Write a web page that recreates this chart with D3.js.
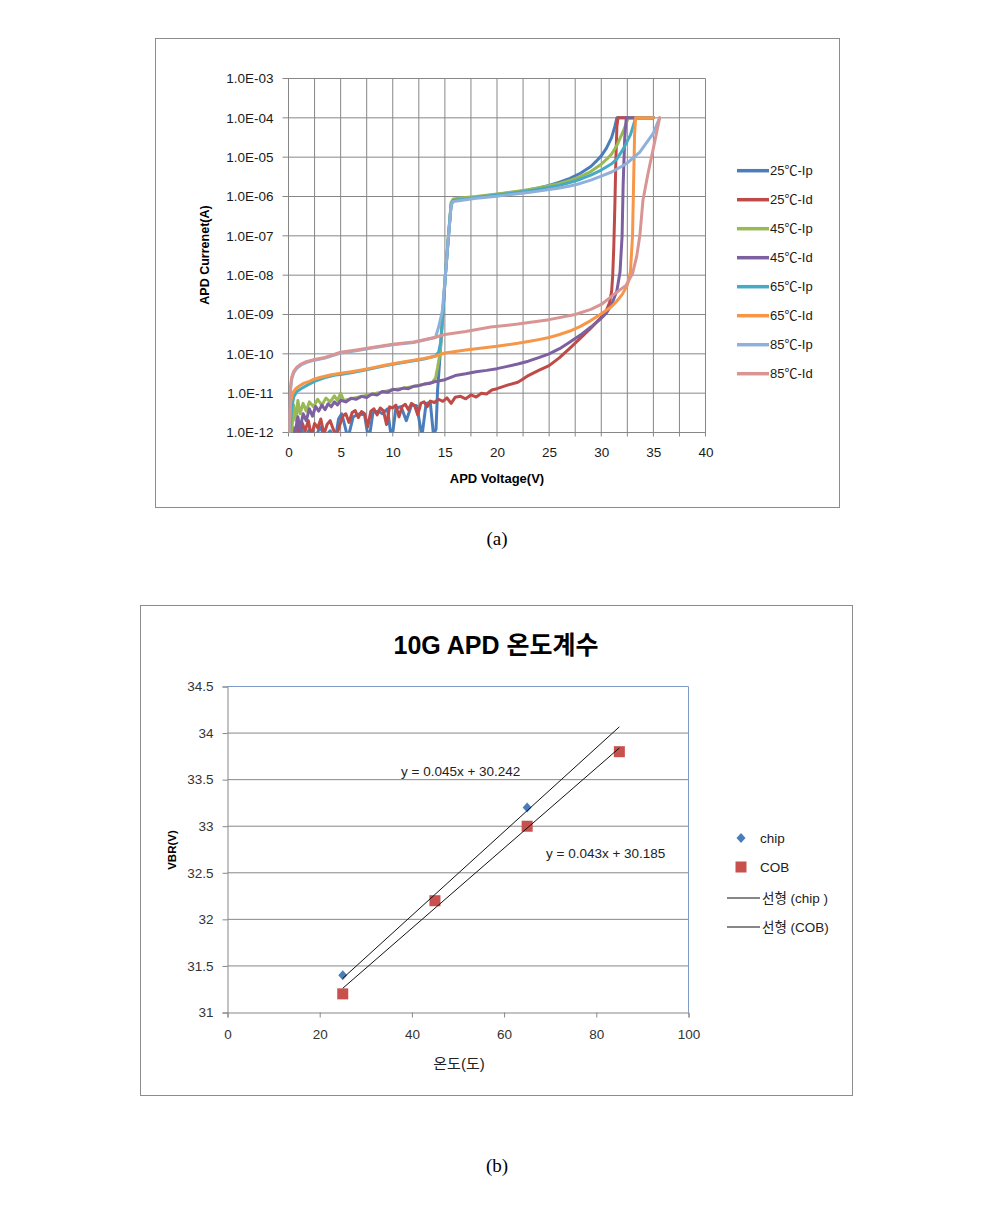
<!DOCTYPE html>
<html>
<head>
<meta charset="utf-8">
<script src="https://cdn.jsdelivr.net/npm/d3@7"></script>
<style>
  body { margin: 0; background: #fff; }
  text { font-family: "Liberation Sans", "Noto Sans CJK KR", sans-serif; }
</style>
</head>
<body>
<script>
// ---------- chart (a): APD I-V curves, [voltage (V), current (A)] ----------
const ip25 = [[0,5e-13],[0.5,1.3e-12],[0.8,6e-13],[1.2,1.5e-12],[1.5,7e-13],[2.0,1.2e-12],[2.5,6e-13],[3.0,1.4e-12],[3.5,8e-13],[4.0,1.1e-12],[4.5,7e-13],[4.8,2.2e-12],[5.1,3.0e-12],[5.4,1.5e-12],[5.7,7e-13],[6.2,2.5e-12],[6.8,3.0e-12],[7.3,2.8e-12],[7.7,6e-13],[8.1,3.2e-12],[8.6,3.5e-12],[9.0,3.0e-12],[9.5,4.0e-12],[9.9,6e-13],[10.3,4.2e-12],[10.8,4.5e-12],[11.3,2.0e-12],[11.8,5.0e-12],[12.3,4.8e-12],[12.8,8e-13],[13.2,5.5e-12],[13.6,5.8e-12],[13.9,9e-13],[14.15,1.2e-12],[14.3,1.2e-11],[14.55,1e-10],[14.8,1e-9],[15.05,1e-8],[15.35,1e-7],[15.6,6.3e-7],[15.8,7.8e-7],[16,8.0e-7],[17,8.8e-7],[18,9.6e-7],[19,1.04e-6],[20,1.12e-6],[21,1.22e-6],[22,1.33e-6],[23,1.46e-6],[24,1.65e-6],[25,1.9e-6],[26,2.3e-6],[27,2.9e-6],[28,3.9e-6],[29,5.8e-6],[29.5,7.8e-6],[30,1.08e-5],[30.5,1.7e-5],[31,3.2e-5],[31.3,6e-5],[31.5,1e-4],[35,1e-4]];
const id25 = [[0,5e-13],[0.5,8e-13],[0.8,1.6e-12],[1.0,9e-13],[1.3,1.8e-12],[1.6,1.1e-12],[1.9,2.0e-12],[2.2,8e-13],[2.5,1.7e-12],[2.8,1.3e-12],[3.1,2.2e-12],[3.4,9e-13],[3.7,1.6e-12],[4.0,2.0e-12],[4.3,1.2e-12],[4.6,8e-13],[4.9,1.5e-12],[5.2,2.6e-12],[5.5,3.0e-12],[5.8,1.8e-12],[6.1,3.2e-12],[6.4,3.6e-12],[6.7,2.4e-12],[7.0,3.4e-12],[7.3,3.0e-12],[7.6,1.4e-12],[7.9,3.5e-12],[8.2,4.0e-12],[8.5,2.8e-12],[8.8,4.2e-12],[9.1,3.6e-12],[9.4,1.6e-12],[9.7,4.5e-12],[10.0,4.2e-12],[10.3,5.0e-12],[10.6,2.5e-12],[10.9,4.6e-12],[11.2,5.2e-12],[11.5,3.8e-12],[11.8,5.5e-12],[12.1,4.8e-12],[12.4,2.8e-12],[12.7,5.6e-12],[13.0,6.0e-12],[13.3,4.5e-12],[13.6,6.3e-12],[14.0,5.8e-12],[14.4,7.0e-12],[14.8,6.2e-12],[15.2,7.6e-12],[15.6,5.5e-12],[16.0,7.9e-12],[16.5,8.3e-12],[17.0,7.2e-12],[17.5,9.0e-12],[18.0,8.0e-12],[18.5,1.0e-11],[19.0,9.5e-12],[19.5,1.2e-11],[20,1.3e-11],[21,1.6e-11],[22,1.9e-11],[22.5,2.3e-11],[23,2.8e-11],[24,3.8e-11],[25,5.0e-11],[26,8.0e-11],[27,1.4e-10],[28,2.5e-10],[29,4.5e-10],[30,8.5e-10],[30.5,1.3e-9],[30.8,2.0e-9],[31.0,4e-9],[31.1,1e-8],[31.2,5e-8],[31.3,5e-7],[31.4,8e-6],[31.5,6e-5],[31.6,1e-4],[35,1e-4]];
const ip45 = [[0,5e-13],[0.3,1e-12],[0.5,5e-12],[0.7,2e-12],[0.9,6.5e-12],[1.1,3e-12],[1.4,5.5e-12],[1.7,3.5e-12],[2.0,6e-12],[2.4,4.5e-12],[2.8,7e-12],[3.2,5e-12],[3.6,7.5e-12],[4.0,6e-12],[4.4,8.5e-12],[4.7,6.5e-12],[5.0,1.0e-11],[5.3,6.5e-12],[6,7.2e-12],[7,8.2e-12],[8,9.4e-12],[9,1.08e-11],[10,1.22e-11],[11,1.33e-11],[12,1.48e-11],[13,1.68e-11],[13.8,1.9e-11],[14.1,2.4e-11],[14.3,4.5e-11],[14.55,1.1e-10],[14.8,1.1e-9],[15.05,1.1e-8],[15.35,1.1e-7],[15.6,7e-7],[15.8,8.6e-7],[16,8.8e-7],[17,9.5e-7],[18,1.0e-6],[19,1.08e-6],[20,1.16e-6],[21,1.25e-6],[22,1.36e-6],[23,1.49e-6],[24,1.66e-6],[25,1.87e-6],[26,2.15e-6],[27,2.55e-6],[28,3.2e-6],[29,4.3e-6],[30,6.6e-6],[30.6,9.3e-6],[31,1.2e-5],[31.5,2.0e-5],[32.1,4.5e-5],[32.6,1e-4],[35,1e-4]];
const id45 = [[0,5e-13],[0.6,9e-13],[0.9,2.5e-12],[1.1,1.2e-12],[1.4,3.0e-12],[1.7,2.0e-12],[2.0,4.0e-12],[2.3,2.6e-12],[2.6,4.6e-12],[2.9,3.5e-12],[3.2,5.0e-12],[3.5,3.8e-12],[3.8,5.4e-12],[4.1,4.5e-12],[4.4,6.0e-12],[4.7,5.0e-12],[5.0,6.6e-12],[5.5,6.0e-12],[6.0,7.4e-12],[6.5,7.0e-12],[7.0,8.3e-12],[7.5,7.8e-12],[8.0,9.5e-12],[8.5,9.0e-12],[9.0,1.1e-11],[9.5,1.05e-11],[10.0,1.25e-11],[10.5,1.2e-11],[11.0,1.35e-11],[11.5,1.3e-11],[12.0,1.5e-11],[12.5,1.55e-11],[13.0,1.7e-11],[13.5,1.75e-11],[14.0,1.95e-11],[15,2.2e-11],[16,2.8e-11],[17,3.1e-11],[18,3.5e-11],[19,3.8e-11],[20,4.2e-11],[21,4.8e-11],[22,5.5e-11],[23,6.5e-11],[24,8.0e-11],[25,1.0e-10],[26,1.35e-10],[27,2.0e-10],[28,3.0e-10],[29,4.8e-10],[30,8.0e-10],[30.5,1.1e-9],[31.0,1.8e-9],[31.5,4e-9],[31.8,1.2e-8],[32.0,1e-7],[32.1,2e-6],[32.25,3e-5],[32.4,1e-4],[35,1e-4]];
const ip65 = [[0,5e-13],[0.1,1e-12],[0.3,4e-12],[0.5,8e-12],[0.8,1.1e-11],[1.2,1.3e-11],[1.8,1.6e-11],[2.5,2.0e-11],[3.5,2.5e-11],[4.5,2.9e-11],[5,3.0e-11],[6,3.3e-11],[7,3.7e-11],[8,4.2e-11],[9,4.8e-11],[10,5.4e-11],[11,6.0e-11],[12,6.7e-11],[13,7.4e-11],[14.1,8.8e-11],[14.4,1.1e-10],[14.6,2e-10],[14.8,1e-9],[15.05,1e-8],[15.35,1e-7],[15.6,6.3e-7],[15.8,7.8e-7],[16,8.0e-7],[17,8.7e-7],[18,9.4e-7],[19,1.01e-6],[20,1.09e-6],[21,1.17e-6],[22,1.27e-6],[23,1.39e-6],[24,1.53e-6],[25,1.7e-6],[26,1.92e-6],[27,2.25e-6],[28,2.75e-6],[29,3.5e-6],[30,4.7e-6],[31,6.8e-6],[31.5,9e-6],[32.1,1.6e-5],[32.8,3.7e-5],[33.3,1e-4],[35,1e-4]];
const id65 = [[0.05,8e-13],[0.2,6e-12],[0.4,1.0e-11],[0.7,1.3e-11],[1.0,1.5e-11],[1.5,1.8e-11],[2.0,2.0e-11],[2.5,2.3e-11],[3.0,2.5e-11],[4.0,2.9e-11],[5.0,3.2e-11],[6.0,3.5e-11],[7.0,3.9e-11],[8.0,4.4e-11],[9.0,5.0e-11],[10,5.6e-11],[11,6.2e-11],[12,6.9e-11],[13,7.6e-11],[14,8.6e-11],[15,1.05e-10],[16,1.15e-10],[17,1.25e-10],[18,1.35e-10],[19,1.45e-10],[20,1.55e-10],[21,1.7e-10],[22,1.85e-10],[23,2.05e-10],[24,2.3e-10],[25,2.6e-10],[26,3.1e-10],[27,3.8e-10],[28,5.0e-10],[29,7.0e-10],[30,1.05e-9],[31,1.6e-9],[31.5,2.2e-9],[32,3.2e-9],[32.5,5.5e-9],[32.8,1.2e-8],[33.0,1e-7],[33.1,2e-6],[33.2,4e-5],[33.3,1e-4],[35,1e-4]];
const ip85 = [[0,5e-13],[0.1,2e-12],[0.2,1.2e-11],[0.3,2.2e-11],[0.5,3.3e-11],[0.8,4.3e-11],[1.2,5.2e-11],[1.7,6e-11],[2.5,6.9e-11],[3.5,7.8e-11],[5,1.05e-10],[6.5,1.2e-10],[8,1.4e-10],[10,1.7e-10],[12,1.95e-10],[14.1,2.6e-10],[14.4,4.8e-10],[14.75,1.2e-9],[15.05,1e-8],[15.35,1e-7],[15.6,6e-7],[15.8,7.5e-7],[16,7.6e-7],[17,8.3e-7],[18,9.0e-7],[19,9.6e-7],[20,1.02e-6],[21,1.1e-6],[22,1.18e-6],[23,1.27e-6],[24,1.37e-6],[25,1.5e-6],[26,1.65e-6],[27,1.85e-6],[28,2.15e-6],[29,2.6e-6],[30,3.3e-6],[31,4.2e-6],[32.4,6.8e-6],[33.7,1.35e-5],[35,4.1e-5],[35.6,1e-4]];
const id85 = [[0,1e-12],[0.1,3e-12],[0.2,1.5e-11],[0.3,2.5e-11],[0.5,3.6e-11],[0.8,4.6e-11],[1.2,5.5e-11],[1.7,6.3e-11],[2.5,7.2e-11],[3.5,8.1e-11],[5.0,1.1e-10],[6.5,1.25e-10],[8.0,1.45e-10],[10,1.75e-10],[12,2.0e-10],[14,2.6e-10],[15,3.1e-10],[17,3.7e-10],[19.4,4.8e-10],[22,5.7e-10],[25,7.4e-10],[27.5,1.0e-9],[29,1.35e-9],[30,1.8e-9],[31.2,3.2e-9],[32.4,5.6e-9],[33.0,1.1e-8],[33.4,3e-8],[33.7,1.0e-7],[34.0,8e-7],[34.5,4e-6],[35.0,1.7e-5],[35.6,1e-4]];

const curveNames = ["25℃-Ip", "25℃-Id", "45℃-Ip", "45℃-Id", "65℃-Ip", "65℃-Id", "85℃-Ip", "85℃-Id"];
const curveData = [ip25, id25, ip45, id45, ip65, id65, ip85, id85];
const voltTicks = [0, 5, 10, 15, 20, 25, 30, 35, 40];
const currentTicks = [1e-12, 1e-11, 1e-10, 1e-9, 1e-8, 1e-7, 1e-6, 1e-5, 1e-4, 1e-3];

// ---------- chart (b): breakdown voltage vs temperature ----------
const chipTemp = [25, 45, 65];
const chipVbr = [31.4, 32.2, 33.2];
const cobTemp = [25, 45, 65, 85];
const cobVbr = [31.2, 32.2, 33.0, 33.8];
const fitNames = ["선형 (chip )", "선형 (COB)"];
const fitSlope = [0.045, 0.043];
const fitIntercept = [30.242, 30.185];
const fitLabels = ["y = 0.045x + 30.242", "y = 0.043x + 30.185"];
const fitSpan = [25, 85];
const tempTicks = [0, 20, 40, 60, 80, 100];
const vbrTicks = [31, 31.5, 32, 32.5, 33, 33.5, 34, 34.5];

const colors = ["#4a7ebb", "#be4b48", "#98b954", "#7d60a0", "#46aac5", "#f79646", "#8fb0da", "#d99593"];
const gridColor = "#878787";
const diamond = "M0,-5L4.5,0L0,5L-4.5,0Z";

const svg = d3.select("body").append("svg")
  .attr("width", 996).attr("height", 1208);

// ================= (a) =================
svg.append("rect").attr("x", 155.5).attr("y", 38.5).attr("width", 684).attr("height", 469)
  .attr("fill", "#fff").attr("stroke", "#8c8c8c");

const W1 = 417, H1 = 354;
const g1 = svg.append("g").attr("transform", "translate(288.5,78.5)");
const x1 = d3.scaleLinear().domain([0, 40]).range([0, W1]);
const y1 = d3.scaleLog().domain([1e-12, 1e-3]).range([H1, 0]);

// grid every 2.5 V and every decade
g1.append("g").selectAll("line").data(d3.range(0, 40.01, 2.5)).join("line")
  .attr("x1", d => x1(d)).attr("x2", d => x1(d)).attr("y1", 0).attr("y2", H1 + 4)
  .attr("stroke", gridColor).attr("stroke-width", 1);
g1.append("g").selectAll("line").data(currentTicks).join("line")
  .attr("x1", -6).attr("x2", W1).attr("y1", d => y1(d)).attr("y2", d => y1(d))
  .attr("stroke", gridColor).attr("stroke-width", 1);

const fmtE = d => "1.0E-" + String(Math.round(-Math.log10(d))).padStart(2, "0");
const ax1 = g1.append("g").call(d3.axisLeft(y1).tickValues(currentTicks).tickFormat(fmtE).tickSize(0).tickPadding(15));
const bx1 = g1.append("g").attr("transform", `translate(0,${H1})`)
  .call(d3.axisBottom(x1).tickValues(voltTicks).tickSize(0).tickPadding(15));
[ax1, bx1].forEach(a => {
  a.select(".domain").remove();
  a.selectAll("text").attr("font-size", 13.5).attr("fill", "#1a1a1a")
    .style("font-family", "'Liberation Sans', sans-serif");
});

g1.append("clipPath").attr("id", "clipA").append("rect")
  .attr("x", 0).attr("y", -3).attr("width", W1).attr("height", H1 + 3);

const line1 = d3.line().x(d => x1(d[0])).y(d => y1(d[1]));
g1.append("g").attr("clip-path", "url(#clipA)")
  .selectAll("path").data(curveData).join("path")
  .attr("d", line1).attr("fill", "none")
  .attr("stroke", (d, i) => colors[i]).attr("stroke-width", 3)
  .attr("stroke-linejoin", "round").attr("stroke-linecap", "round");

svg.append("text").attr("x", 497).attr("y", 478).attr("text-anchor", "middle")
  .attr("dominant-baseline", "central").attr("font-size", 13).attr("font-weight", "bold")
  .text("APD Voltage(V)");
svg.append("text").attr("transform", "translate(205,255) rotate(-90)").attr("text-anchor", "middle")
  .attr("dominant-baseline", "central").attr("font-size", 12.5).attr("font-weight", "bold")
  .text("APD Currenet(A)");

const leg1 = svg.append("g").selectAll("g").data(curveNames).join("g")
  .attr("transform", (d, i) => `translate(737,${170.7 + i * 29})`);
leg1.append("line").attr("x1", 0).attr("x2", 32).attr("stroke", (d, i) => colors[i]).attr("stroke-width", 3.5);
leg1.append("text").attr("x", 33).attr("dominant-baseline", "central").attr("font-size", 13)
  .attr("fill", "#1a1a1a").text(d => d);

svg.append("text").attr("x", 497).attr("y", 538).attr("text-anchor", "middle")
  .attr("dominant-baseline", "central").attr("font-size", 19)
  .style("font-family", "'Liberation Serif', serif").text("(a)");

// ================= (b) =================
svg.append("rect").attr("x", 140.5).attr("y", 605.5).attr("width", 712).attr("height", 490)
  .attr("fill", "#fff").attr("stroke", "#8c8c8c");

const W2 = 461, H2 = 326;
const g2 = svg.append("g").attr("transform", "translate(227.5,686.5)");
const x2 = d3.scaleLinear().domain([0, 100]).range([0, W2]);
const y2 = d3.scaleLinear().domain([31, 34.5]).range([H2, 0]);

g2.append("g").selectAll("line").data(vbrTicks.slice(1, -1)).join("line")
  .attr("x1", 0).attr("x2", W2).attr("y1", d => y2(d)).attr("y2", d => y2(d))
  .attr("stroke", gridColor);
// plot area border top/right
g2.append("path").attr("d", `M0,0H${W2}V${H2}`).attr("fill", "none").attr("stroke", "#7f9cc8");

const ax2 = g2.append("g").call(d3.axisLeft(y2).tickValues(vbrTicks).tickFormat(d3.format("")).tickSize(5).tickPadding(9));
const bx2 = g2.append("g").attr("transform", `translate(0,${H2})`)
  .call(d3.axisBottom(x2).tickValues(tempTicks).tickSize(5).tickPadding(12));
[ax2, bx2].forEach(a => {
  a.selectAll(".domain, line").attr("stroke", gridColor);
  a.selectAll("text").attr("font-size", 13.5).attr("fill", "#333")
    .style("font-family", "'Liberation Sans', sans-serif");
});

// markers
g2.append("g").selectAll("path").data(chipTemp).join("path")
  .attr("transform", (d, i) => `translate(${x2(d)},${y2(chipVbr[i])})`)
  .attr("d", diamond).attr("fill", "#4a7ebb");
g2.append("g").selectAll("rect").data(cobTemp).join("rect")
  .attr("x", d => x2(d) - 5.5).attr("y", (d, i) => y2(cobVbr[i]) - 5.5)
  .attr("width", 11).attr("height", 11).attr("fill", "#c8504d");

// linear trend lines
g2.append("g").selectAll("line").data(fitSlope).join("line")
  .attr("x1", x2(fitSpan[0])).attr("x2", x2(fitSpan[1]))
  .attr("y1", (d, i) => y2(d * fitSpan[0] + fitIntercept[i]))
  .attr("y2", (d, i) => y2(d * fitSpan[1] + fitIntercept[i]))
  .attr("stroke", "#111").attr("stroke-width", 1);

g2.append("text").attr("x", 173.5).attr("y", 84.5).attr("dominant-baseline", "central")
  .attr("font-size", 13.5).attr("fill", "#222").text(fitLabels[0]);
g2.append("text").attr("x", 318.5).attr("y", 166.5).attr("dominant-baseline", "central")
  .attr("font-size", 13.5).attr("fill", "#222").text(fitLabels[1]);

svg.append("text").attr("x", 496).attr("y", 645).attr("text-anchor", "middle")
  .attr("dominant-baseline", "central").attr("font-size", 25).attr("font-weight", "bold")
  .text("10G APD 온도계수");
svg.append("text").attr("x", 459).attr("y", 1063).attr("text-anchor", "middle")
  .attr("dominant-baseline", "central").attr("font-size", 15).attr("fill", "#222")
  .text("온도(도)");
svg.append("text").attr("transform", "translate(172,850) rotate(-90)").attr("text-anchor", "middle")
  .attr("dominant-baseline", "central").attr("font-size", 11.5).attr("font-weight", "bold")
  .text("VBR(V)");

// legend (b)
const lg2 = svg.append("g");
lg2.append("path").attr("transform", "translate(741,838)").attr("d", diamond).attr("fill", "#4a7ebb");
lg2.append("rect").attr("x", 735.5).attr("y", 861.5).attr("width", 11).attr("height", 11).attr("fill", "#c8504d");
lg2.append("text").attr("x", 760).attr("y", 838).attr("dominant-baseline", "central").attr("font-size", 13.5).attr("fill", "#222").text("chip");
lg2.append("text").attr("x", 760).attr("y", 867).attr("dominant-baseline", "central").attr("font-size", 13.5).attr("fill", "#222").text("COB");
lg2.selectAll(".fl").data(fitNames).join("g").attr("class", "fl")
  .attr("transform", (d, i) => `translate(727,${898 + i * 29})`)
  .call(s => {
    s.append("line").attr("x1", 0).attr("x2", 33).attr("stroke", "#111");
    s.append("text").attr("x", 35).attr("dominant-baseline", "central").attr("font-size", 13.5)
      .attr("fill", "#222").text(d => d);
  });

svg.append("text").attr("x", 497).attr("y", 1165).attr("text-anchor", "middle")
  .attr("dominant-baseline", "central").attr("font-size", 19)
  .style("font-family", "'Liberation Serif', serif").text("(b)");
</script>
</body>
</html>
